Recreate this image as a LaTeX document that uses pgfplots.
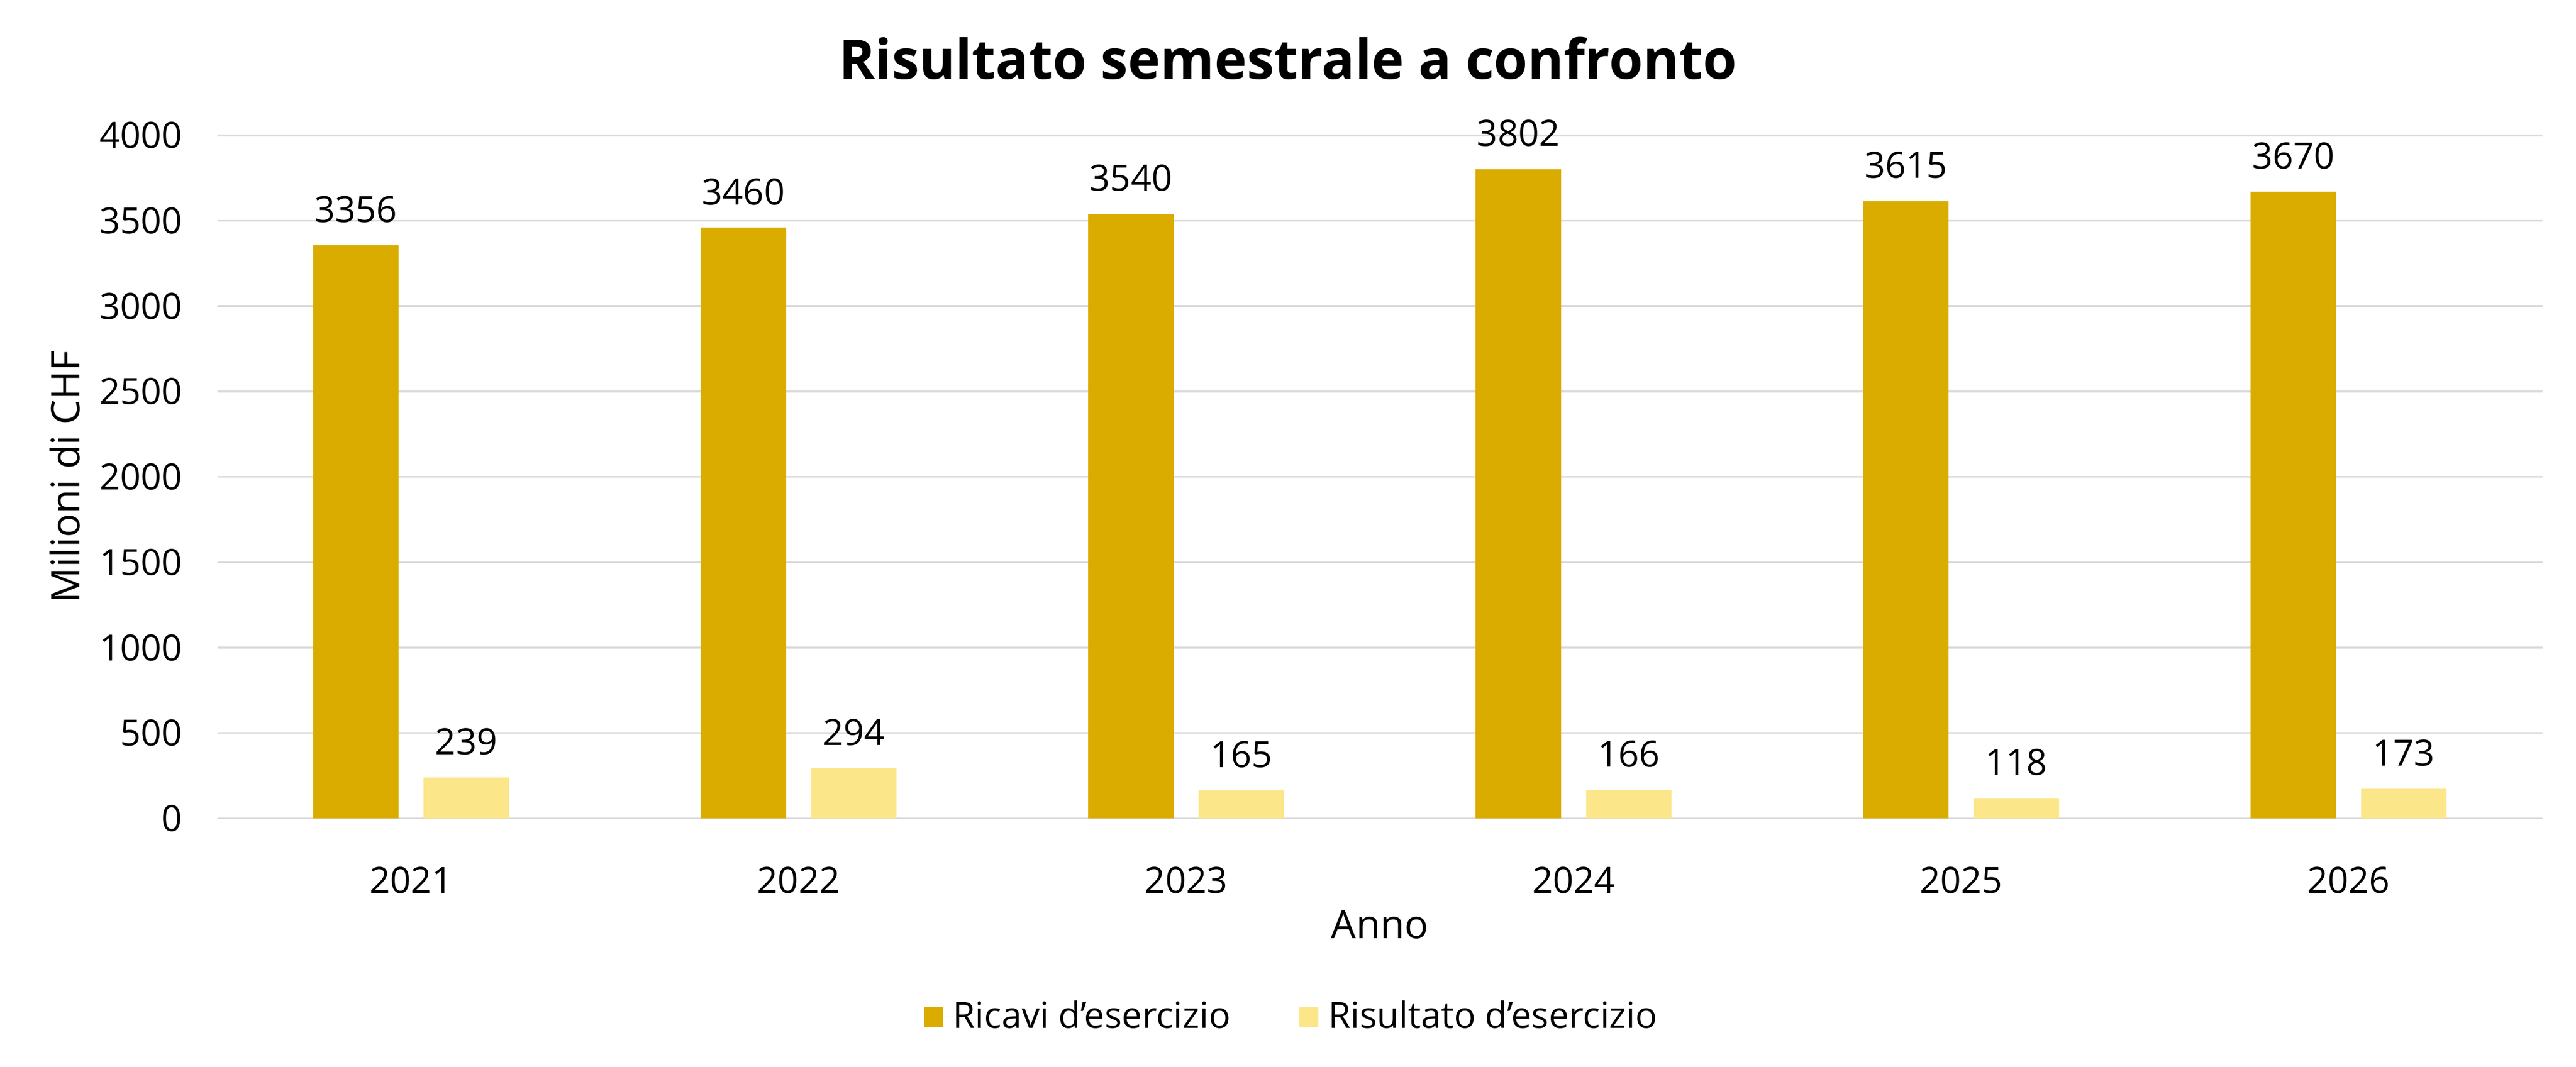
\documentclass[border=0pt]{standalone}
\usepackage{fontspec}
\setmainfont{Open Sans}
\usepackage{pgfplots}
\pgfplotsset{compat=1.18}
\definecolor{darkgold}{RGB}{218,172,0}
\definecolor{lightgold}{RGB}{252,230,138}
\definecolor{gridgray}{RGB}{217,217,217}
\begin{document}
\begin{tikzpicture}
\useasboundingbox (-66.15pt,-75.6pt) rectangle (717.85pt,249.05pt);
\begin{axis}[
  scale only axis,
  width=707.6pt, height=207.85pt,
  xmin=-0.5, xmax=5.5,
  ymin=0, ymax=4000,
  ybar=7.62pt, bar width=26pt,
  xtick={0,1,2,3,4,5},
  xticklabels={2021,2022,2023,2024,2025,2026},
  ytick={0,500,1000,1500,2000,2500,3000,3500,4000},
  /pgf/number format/assume math mode=true,
  /pgf/number format/1000 sep={},
  ymajorgrids,
  grid style={gridgray, line width=0.55pt},
  axis line style={draw=none},
  tick style={draw=none},
  ticklabel style={font=\fontsize{11}{13}\selectfont, inner sep=0pt},
  yticklabel style={anchor=east, xshift=-10.5pt},
  xticklabel style={anchor=north, yshift=-10.3pt},
  every axis title/.style={at={(axis description cs:0.4605,1.0825)}, anchor=base, inner sep=0pt, font=\fontsize{16.7}{20}\selectfont\bfseries},
  title={Risultato semestrale a confronto},
  every axis x label/.style={at={(axis description cs:0.5,-0.1756)}, anchor=base, inner sep=0pt, font=\fontsize{12}{14}\selectfont},
  xlabel={Anno},
  every axis y label/.style={at={(axis description cs:-0.05936,0.5)}, rotate=90, anchor=base, inner sep=0pt, font=\fontsize{12}{14}\selectfont},
  ylabel={Milioni di CHF},
  nodes near coords,
  every node near coord/.append style={font=\fontsize{11}{13}\selectfont, text=black, anchor=base, inner sep=0pt, yshift=7pt},
  legend columns=2,
  legend style={at={(axis description cs:0.304,-0.2908)}, anchor=west, draw=none, fill=none, inner sep=0pt, outer sep=0pt,
    font=\fontsize{11}{13}\selectfont,
    /tikz/every even column/.append style={column sep=21pt},
    nodes={inner sep=0pt, anchor=west}},
  legend image code/.code={\fill[#1] (0pt,-3pt) rectangle (5.75pt,3pt); \path (0pt,0pt) -- (8.75pt,0pt);},
]
\addplot[fill=darkgold, draw=none] coordinates {(0,3356) (1,3460) (2,3540) (3,3802) (4,3615) (5,3670)};
\addplot[fill=lightgold, draw=none] coordinates {(0,239) (1,294) (2,165) (3,166) (4,118) (5,173)};
\legend{Ricavi d’esercizio, Risultato d’esercizio}
\end{axis}
\end{tikzpicture}
\end{document}
